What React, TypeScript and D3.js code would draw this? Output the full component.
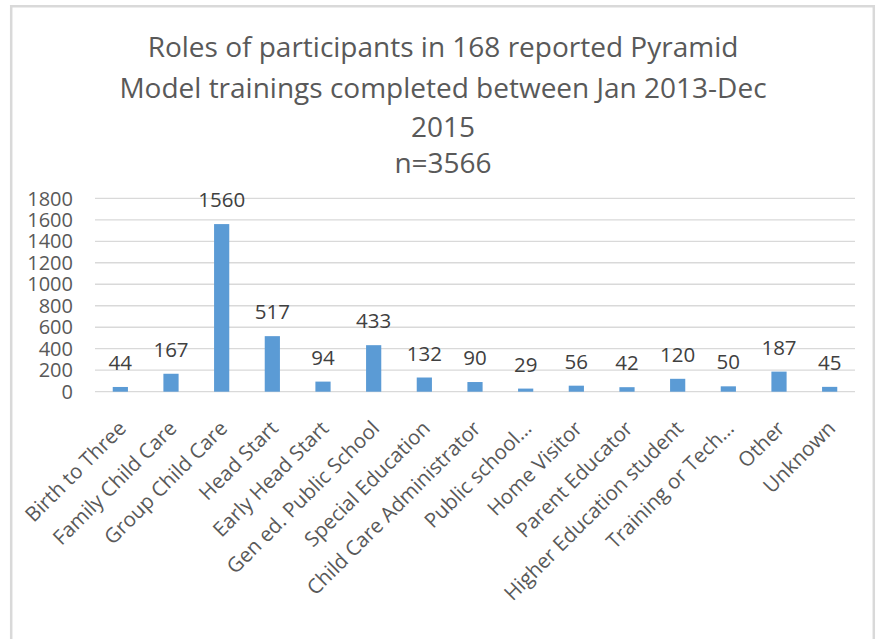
import React from "react";
import * as d3 from "d3";

const categories = [
  "Birth to Three",
  "Family Child Care",
  "Group Child Care",
  "Head Start",
  "Early Head Start",
  "Gen ed. Public School",
  "Special Education",
  "Child Care Administrator",
  "Public school…",
  "Home Visitor",
  "Parent Educator",
  "Higher Education student",
  "Training or Tech…",
  "Other",
  "Unknown",
];
const values = [44, 167, 1560, 517, 94, 433, 132, 90, 29, 56, 42, 120, 50, 187, 45];
const yTicks = [0, 200, 400, 600, 800, 1000, 1200, 1400, 1600, 1800];
const titleLines = [
  "Roles of participants in 168 reported Pyramid",
  "Model trainings completed between Jan 2013-Dec",
  "2015",
  "n=3566",
];

const W = 879;
const H = 639;
const FONT = "'Open Sans', sans-serif";

export default function App() {
  const left = 95;
  const right = 855;
  const top = 198.3;
  const bottom = 391.7;
  const x = d3.scaleBand<string>().domain(categories).range([left, right]).paddingInner(0.7).paddingOuter(0.35);
  const y = d3.scaleLinear().domain([0, 1800]).range([bottom, top]);
  const titleY = [57, 98, 137, 173];

  return (
    <svg width={W} height={H} style={{ position: "absolute", left: 0, top: 0 }} fontFamily={FONT}>
      <rect x={0} y={0} width={W} height={H} fill="#fff" />
      <path d={`M11.2,${H} V6.2 H873.8 V${H}`} fill="none" stroke="#d9d9d9" strokeWidth={2.5} />
      {titleLines.map((t, i) => (
        <text key={i} x={443} y={titleY[i]} textAnchor="middle" fontSize={28} fill="#595959">
          {t}
        </text>
      ))}
      {yTicks.map((t) => (
        <g key={t}>
          <line x1={left} x2={right} y1={y(t)} y2={y(t)} stroke="#d9d9d9" strokeWidth={1.3} />
          <text x={73} y={y(t)} dy="0.36em" textAnchor="end" fontSize={20} fill="#595959">
            {t}
          </text>
        </g>
      ))}
      {categories.map((c, i) => {
        const bx = x(c)!;
        const cx = bx + x.bandwidth() / 2;
        return (
          <g key={c}>
            <rect x={bx} y={y(values[i])} width={x.bandwidth()} height={bottom - y(values[i])} fill="#5b9bd5" />
            <text x={cx} y={y(values[i]) - 17} textAnchor="middle" fontSize={20.5} fill="#404040">
              {values[i]}
            </text>
            <text
              transform={`translate(${cx + 7},${bottom + 38}) rotate(-45)`}
              textAnchor="end"
              fontSize={20.5}
              fill="#595959"
            >
              {c}
            </text>
          </g>
        );
      })}
    </svg>
  );
}
